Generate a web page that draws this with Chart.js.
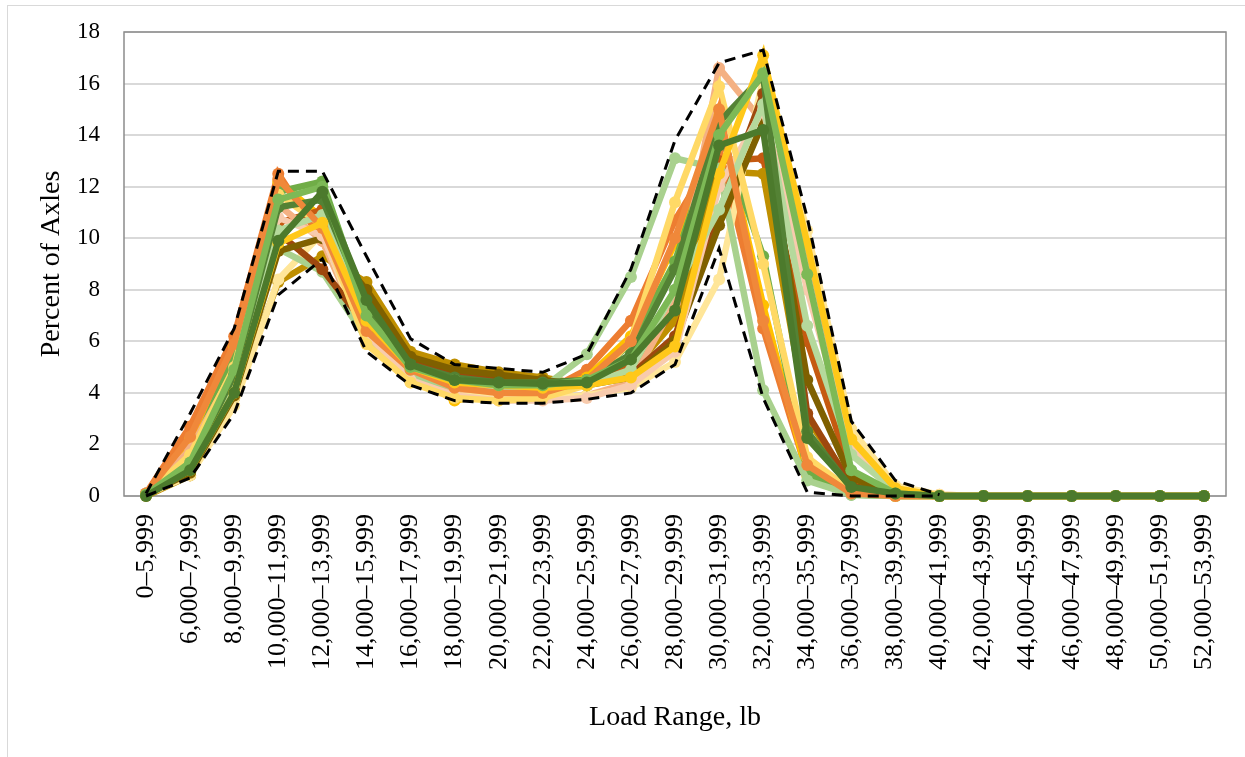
<!DOCTYPE html>
<html>
<head>
<meta charset="utf-8">
<title>Percent of Axles by Load Range</title>
<script src="https://cdn.jsdelivr.net/npm/chart.js@4.4.1/dist/chart.umd.min.js"></script>
<style>
  html, body { margin: 0; padding: 0; background: #fff; }
  #wrap { position: relative; width: 1245px; height: 757px; overflow: hidden; }
  #frame { position: absolute; left: 7px; top: 5px; width: 1260px; height: 770px;
           border-left: 1px solid #d9d9d9; border-top: 1px solid #d9d9d9; }
  canvas { position: absolute; left: 0; top: 0; }
</style>
</head>
<body>
<div id="wrap">
  <div id="frame"></div>
  <canvas id="axleChart" width="1245" height="757"></canvas>
</div>
<script>
// Load range categories (x axis)
const loadRanges = [
  '0–5,999', '6,000–7,999', '8,000–9,999', '10,000–11,999', '12,000–13,999',
  '14,000–15,999', '16,000–17,999', '18,000–19,999', '20,000–21,999', '22,000–23,999',
  '24,000–25,999', '26,000–27,999', '28,000–29,999', '30,000–31,999', '32,000–33,999',
  '34,000–35,999', '36,000–37,999', '38,000–39,999', '40,000–41,999', '42,000–43,999',
  '44,000–45,999', '46,000–47,999', '48,000–49,999', '50,000–51,999', '52,000–53,999'
];

// Percent of axles per site
const site01 = [0.1, 2.7, 6.2, 12.5, 9.9, 6.5, 5.0, 4.3, 4.1, 4.0, 4.9, 6.8, 10.7, 13.5, 6.5, 0.9, 0.1, 0, 0, 0, 0, 0, 0, 0, 0];
const site02 = [0.05, 2.2, 5.8, 12.2, 10.8, 6.2, 4.8, 3.7, 4.0, 4.1, 4.6, 6.2, 9.8, 14.8, 7.4, 0.8, 0.1, 0, 0, 0, 0, 0, 0, 0, 0];
const site03 = [0.1, 1.5, 5.5, 11.8, 12.2, 7.2, 5.1, 4.4, 4.3, 4.2, 4.5, 5.9, 9.1, 14.3, 9.3, 0.9, 0.05, 0, 0, 0, 0, 0, 0, 0, 0];
const site04 = [0.05, 1.2, 4.8, 10.6, 11.1, 7.8, 5.3, 4.9, 4.7, 4.5, 4.4, 5.0, 7.0, 13.0, 13.1, 6.0, 0.9, 0.1, 0, 0, 0, 0, 0, 0, 0];
const site05 = [0, 0.8, 3.8, 8.3, 9.3, 8.3, 5.6, 5.1, 4.8, 4.6, 4.3, 4.8, 6.8, 12.6, 12.5, 3.0, 0.5, 0.05, 0, 0, 0, 0, 0, 0, 0];
const site06 = [0.1, 1.8, 4.9, 11.3, 9.9, 6.0, 4.6, 4.0, 3.8, 3.8, 3.9, 4.4, 7.5, 16.6, 14.5, 9.7, 2.1, 0.3, 0.05, 0, 0, 0, 0, 0, 0];
const site07 = [0.05, 0.8, 3.5, 8.4, 10.2, 5.9, 4.4, 3.9, 3.8, 3.8, 3.9, 4.2, 5.2, 8.4, 16.2, 10.3, 2.6, 0.4, 0.05, 0, 0, 0, 0, 0, 0];
const site08 = [0.05, 1.3, 4.6, 9.6, 8.7, 6.1, 4.7, 4.2, 4.1, 4.2, 5.5, 8.5, 13.1, 12.7, 4.1, 0.6, 0.05, 0, 0, 0, 0, 0, 0, 0, 0];
const site09 = [0.05, 1.0, 4.2, 10.2, 8.8, 6.6, 5.2, 4.7, 4.6, 4.4, 4.3, 4.7, 6.2, 11.0, 15.6, 3.2, 0.4, 0.05, 0, 0, 0, 0, 0, 0, 0];
const site10 = [0.05, 0.9, 3.9, 9.5, 10.0, 8.0, 5.4, 4.9, 4.7, 4.5, 4.3, 4.6, 6.0, 10.5, 14.5, 4.5, 0.7, 0.1, 0, 0, 0, 0, 0, 0, 0];
const site11 = [0.1, 1.5, 4.5, 10.8, 10.1, 6.3, 4.5, 3.9, 3.7, 3.7, 3.8, 4.3, 5.6, 12.0, 15.0, 8.0, 1.8, 0.2, 0, 0, 0, 0, 0, 0, 0];
const site12 = [0.05, 1.6, 5.0, 11.7, 10.5, 5.9, 4.4, 3.8, 3.7, 3.8, 4.3, 6.0, 11.4, 15.9, 9.0, 1.5, 0.2, 0, 0, 0, 0, 0, 0, 0, 0];
const site13 = [0.05, 1.1, 4.3, 10.3, 10.9, 6.9, 4.9, 4.4, 4.2, 4.2, 4.3, 4.9, 8.0, 11.1, 15.2, 6.6, 1.6, 0.2, 0, 0, 0, 0, 0, 0, 0];
const site14 = [0.05, 1.2, 4.7, 11.2, 11.5, 7.4, 5.1, 4.6, 4.4, 4.4, 4.5, 5.5, 8.8, 14.5, 16.3, 2.5, 0.3, 0.05, 0, 0, 0, 0, 0, 0, 0];
const site15 = [0.1, 2.3, 5.9, 12.3, 10.4, 6.4, 4.9, 4.2, 4.0, 4.0, 4.5, 6.0, 10.0, 15.0, 6.8, 1.2, 0.1, 0, 0, 0, 0, 0, 0, 0, 0];
const site16 = [0.05, 1.0, 4.0, 9.8, 10.6, 6.8, 5.0, 4.4, 4.3, 4.2, 4.3, 4.6, 5.8, 12.5, 17.1, 9.8, 2.2, 0.3, 0, 0, 0, 0, 0, 0, 0];
const site17 = [0.05, 1.3, 4.9, 11.5, 12.0, 7.0, 5.0, 4.5, 4.3, 4.3, 4.5, 5.3, 8.0, 14.0, 16.4, 8.6, 1.0, 0.1, 0, 0, 0, 0, 0, 0, 0];
const site18 = [0, 1.0, 4.0, 9.9, 11.8, 7.6, 5.1, 4.5, 4.4, 4.35, 4.4, 5.3, 7.2, 13.6, 14.2, 2.25, 0.35, 0.1, 0, 0, 0, 0, 0, 0, 0];

// Dashed envelope around all sites
const upperBound = [0.1, 3.2, 6.5, 12.6, 12.6, 9.3, 6.1, 5.1, 4.95, 4.8, 5.5, 8.8, 13.8, 16.8, 17.3, 10.8, 2.9, 0.6, 0.05, null, null, null, null, null, null];
const lowerBound = [0, 0.7, 3.2, 7.8, 9.2, 5.6, 4.3, 3.7, 3.6, 3.6, 3.75, 4.0, 5.1, 9.6, 3.8, 0.15, 0, 0, 0, null, null, null, null, null, null];

const sites = [site01, site02, site03, site04, site05, site06, site07, site08, site09,
               site10, site11, site12, site13, site14, site15, site16, site17, site18];
const siteColors = ['#ED7D31', '#FFC000', '#70AD47', '#C55A11', '#BF8F00', '#F4B183',
                    '#FFE699', '#A9D18E', '#9E480E', '#7F6000', '#F8CBAD', '#FFD966',
                    '#B5D99C', '#548235', '#F0883A', '#FFC819', '#7DB956', '#4C7A2C'];

Chart.defaults.font.family = "'Liberation Serif', 'Times New Roman', serif";
Chart.defaults.color = '#000';

// Plot-area frame (Excel style), drawn under the series
const plotBorder = {
    id: 'plotBorder',
    beforeDatasetsDraw(chart) {
        const { ctx, chartArea: a } = chart;
        ctx.save();
        ctx.strokeStyle = '#8c8c8c';
        ctx.lineWidth = 1.5;
        ctx.strokeRect(a.left, a.top, a.right - a.left, a.bottom - a.top);
        ctx.restore();
    }
};

const datasets = sites.map((values, i) => ({
    label: 'Site ' + (i + 1),
    data: values,
    borderColor: siteColors[i],
    backgroundColor: siteColors[i],
    pointBackgroundColor: siteColors[i],
    borderWidth: 6.5,
    pointRadius: 6,
    pointBorderWidth: 0,
    tension: 0,
    clip: false,
    order: sites.length - i
}));

[upperBound, lowerBound].forEach((values, i) => {
    datasets.push({
        label: i === 0 ? 'Upper bound' : 'Lower bound',
        data: values,
        borderColor: '#000',
        borderWidth: 3,
        borderDash: [11, 7],
        pointRadius: 0,
        tension: 0,
        clip: false,
        order: 0
    });
});

new Chart(document.getElementById('axleChart'), {
    type: 'line',
    data: { labels: loadRanges, datasets: datasets },
    options: {
        responsive: false,
        animation: false,
        layout: { padding: { top: 32, right: 19, left: 0, bottom: 0 } },
        plugins: {
            legend: { display: false },
            tooltip: { enabled: false }
        },
        scales: {
            x: {
                offset: true,
                // invisible tick marks stand in for the label gap
                grid: { display: true, color: 'rgba(0,0,0,0)', drawTicks: true, tickLength: 18 },
                border: { display: false },
                ticks: {
                    autoSkip: false,
                    maxRotation: 90,
                    minRotation: 90,
                    padding: 0,
                    font: { size: 26 }
                },
                title: {
                    display: true,
                    text: 'Load Range, lb',
                    font: { size: 28 },
                    padding: { top: 0, bottom: 23 }
                },
                afterFit: (scale) => { scale.height = 261; }
            },
            y: {
                min: 0,
                max: 18,
                grid: { color: '#d9d9d9', lineWidth: 2, drawTicks: true, tickLength: 22, tickColor: 'rgba(0,0,0,0)' },
                border: { display: false },
                ticks: { stepSize: 2, padding: 2, font: { size: 23 } },
                title: {
                    display: true,
                    text: 'Percent of Axles',
                    font: { size: 28 },
                    padding: { top: 35, bottom: 0 }
                },
                afterFit: (scale) => { scale.width = 124; }
            }
        }
    },
    plugins: [plotBorder]
});
</script>
</body>
</html>
